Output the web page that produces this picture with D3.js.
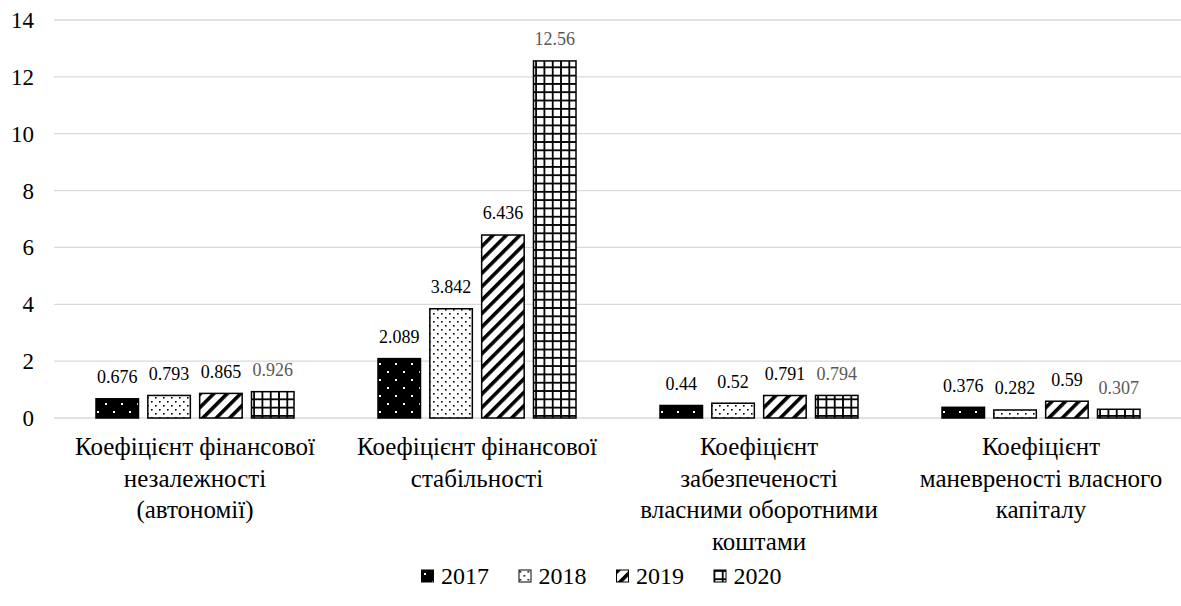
<!DOCTYPE html>
<html>
<head>
<meta charset="utf-8">
<script src="https://cdn.jsdelivr.net/npm/d3@7/dist/d3.min.js"></script>
</head>
<body style="margin:0;background:#fff;font-family:'Liberation Serif'">
<svg id="chart" width="1181" height="606" font-family="Liberation Serif"></svg>
<script>
// Financial stability ratios, 2017–2020
const categories = [
  "Коефіцієнт фінансової незалежності (автономії)",
  "Коефіцієнт фінансової стабільності",
  "Коефіцієнт забезпеченості власними оборотними коштами",
  "Коефіцієнт маневреності власного капіталу"
];
// wrapped lines for each category label
const categoryLines = [
  ["Коефіцієнт фінансової", "незалежності", "(автономії)"],
  ["Коефіцієнт фінансової", "стабільності"],
  ["Коефіцієнт", "забезпеченості", "власними оборотними", "коштами"],
  ["Коефіцієнт", "маневреності власного", "капіталу"]
];
const years = ["2017", "2018", "2019", "2020"];
const values2017 = [0.676, 2.089, 0.44, 0.376];
const values2018 = [0.793, 3.842, 0.52, 0.282];
const values2019 = [0.865, 6.436, 0.791, 0.59];
const values2020 = [0.926, 12.56, 0.794, 0.307];
const yTicks = [0, 2, 4, 6, 8, 10, 12, 14];

const series = [values2017, values2018, values2019, values2020];

const FONT = "'Liberation Serif', 'Times New Roman', serif";
const W = 1181, H = 606;
const margin = { left: 54, right: -1, top: 20, bottom: 188 };

function draw() {
  const svg = d3.select("#chart");
  svg.selectAll("*").remove();

  // fill patterns for each year
  const defs = svg.append("defs");

  // 2017: black with sparse white dots
  const p0 = defs.append("pattern").attr("id", "pat-2017")
    .attr("patternUnits", "userSpaceOnUse").attr("width", 16).attr("height", 16);
  p0.append("rect").attr("width", 16).attr("height", 16).attr("fill", "#000");
  p0.append("rect").attr("x", 3).attr("y", 3).attr("width", 2).attr("height", 2).attr("fill", "#fff");
  p0.append("rect").attr("x", 11).attr("y", 11).attr("width", 2).attr("height", 2).attr("fill", "#fff");

  // 2018: white with dense black dots
  const p1 = defs.append("pattern").attr("id", "pat-2018")
    .attr("patternUnits", "userSpaceOnUse").attr("width", 8).attr("height", 8);
  p1.append("rect").attr("width", 8).attr("height", 8).attr("fill", "#fff");
  p1.append("rect").attr("x", 1).attr("y", 1).attr("width", 1.6).attr("height", 1.6).attr("fill", "#000");
  p1.append("rect").attr("x", 5).attr("y", 5).attr("width", 1.6).attr("height", 1.6).attr("fill", "#000");

  // 2019: wide diagonal stripes
  const p2 = defs.append("pattern").attr("id", "pat-2019")
    .attr("patternUnits", "userSpaceOnUse").attr("width", 9.5).attr("height", 9.5)
    .attr("patternTransform", "rotate(45)");
  p2.append("rect").attr("width", 9.5).attr("height", 9.5).attr("fill", "#fff");
  p2.append("rect").attr("x", 0).attr("y", 0).attr("width", 3.6).attr("height", 9.5).attr("fill", "#000");

  // 2020: grid
  const p3 = defs.append("pattern").attr("id", "pat-2020")
    .attr("patternUnits", "userSpaceOnUse").attr("width", 8.3).attr("height", 8.3);
  p3.append("rect").attr("width", 8.3).attr("height", 8.3).attr("fill", "#fff");
  p3.append("rect").attr("x", 0).attr("y", 0).attr("width", 1.8).attr("height", 8.3).attr("fill", "#000");
  p3.append("rect").attr("x", 0).attr("y", 0).attr("width", 8.3).attr("height", 1.8).attr("fill", "#000");

  const fills = years.map(y => `url(#pat-${y})`);
  const labelColors = ["#000", "#000", "#000", "#595959"];

  const x0 = d3.scaleBand().domain(categories).range([margin.left, W - margin.right]).paddingInner(0).paddingOuter(0);
  const x1 = d3.scaleBand().domain(years).range([42, x0.bandwidth() - 42]).paddingInner(0.18).paddingOuter(0);
  const y = d3.scaleLinear().domain([0, 14]).range([H - margin.bottom, margin.top]);

  // gridlines
  svg.append("g").selectAll("line").data(yTicks).join("line")
    .attr("x1", margin.left).attr("x2", W)
    .attr("y1", d => y(d)).attr("y2", d => y(d))
    .attr("stroke", "#d9d9d9").attr("stroke-width", 1.3);

  // y axis labels, right-aligned beside the gridlines
  svg.append("g").selectAll("text").data(yTicks).join("text")
    .attr("x", 34).attr("y", d => y(d)).attr("dy", "0.35em")
    .attr("text-anchor", "end").attr("font-size", 23)
    .style("font-family", FONT).attr("fill", "#000")
    .text(d3.format("d"));

  // bars
  const groups = svg.append("g").selectAll("g").data(categories).join("g")
    .attr("transform", c => `translate(${x0(c)},0)`);

  groups.each(function(c, ci) {
    const g = d3.select(this);
    years.forEach((yr, si) => {
      const v = series[si][ci];
      g.append("rect")
        .attr("x", x1(yr)).attr("width", x1.bandwidth())
        .attr("y", y(v)).attr("height", y(0) - y(v))
        .attr("fill", fills[si]).attr("stroke", "#000").attr("stroke-width", 1.5);
      g.append("text")
        .attr("x", x1(yr) + x1.bandwidth() / 2)
        .attr("y", y(v) - 22).attr("dy", "0.35em")
        .attr("text-anchor", "middle").attr("font-size", 18)
        .style("font-family", FONT)
        .attr("fill", labelColors[si])
        .text(v);
    });
  });

  // category labels
  const cg = svg.append("g").selectAll("text").data(categories).join("text")
    .attr("x", c => x0(c) + x0.bandwidth() / 2)
    .attr("y", y(0) + 37)
    .attr("text-anchor", "middle").attr("font-size", 25)
    .style("font-family", FONT).attr("fill", "#000");
  cg.each(function(c, i) {
    d3.select(this).selectAll("tspan").data(categoryLines[i]).join("tspan")
      .attr("x", x0(c) + x0.bandwidth() / 2)
      .attr("dy", (d, j) => j === 0 ? 0 : 31.5)
      .text(d => d);
  });

  // legend
  const legendX = d3.scaleBand().domain(years).range([421, 421 + 4 * 97.5]);
  const lg = svg.append("g").selectAll("g").data(years).join("g")
    .attr("transform", d => `translate(${legendX(d)},570)`);
  lg.append("rect").attr("x", 0.5).attr("y", 0).attr("width", 12).attr("height", 12)
    .attr("fill", (d, i) => fills[i]).attr("stroke", "#000").attr("stroke-width", 1);
  lg.append("text").attr("x", 20).attr("y", 6).attr("dy", "0.35em")
    .attr("font-size", 24).style("font-family", FONT).attr("fill", "#000").text(d => d);
}

draw();
// redraw once the serif face is ready so the labels pick it up
if (document.fonts && document.fonts.load) {
  document.fonts.load("22px 'Liberation Serif'", "Коефіцієнт 0123456789").then(draw);
}
</script>
</body>
</html>
